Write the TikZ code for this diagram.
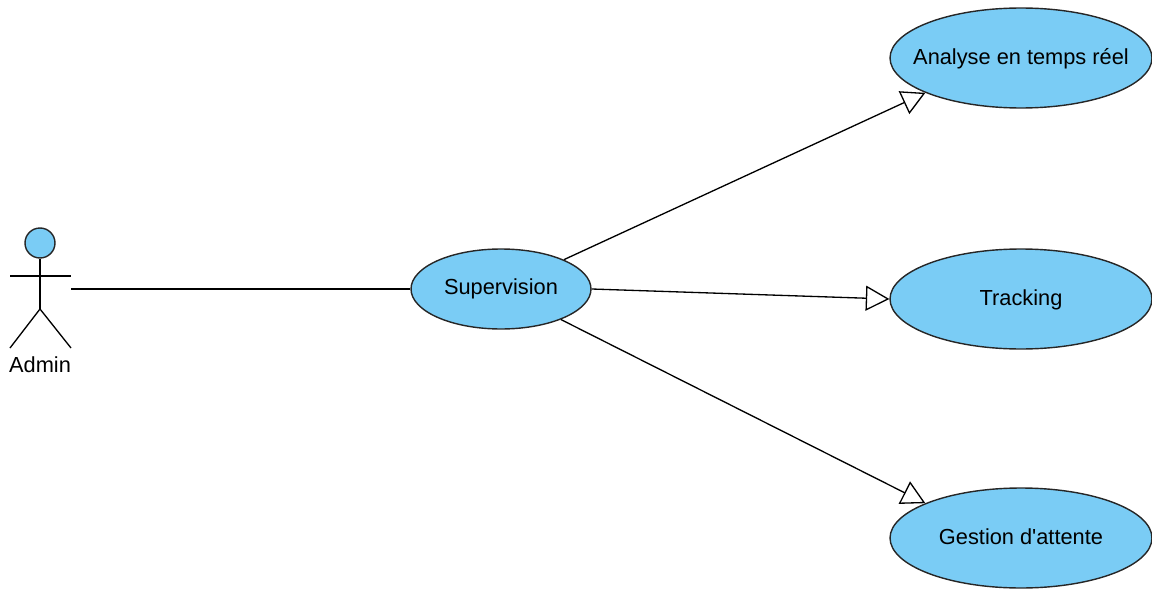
\documentclass[tikz,border=0pt]{standalone}
\usepackage{fontspec}
\setmainfont{Liberation Sans}
\usetikzlibrary{
  arrows.meta, % for the open triangles
  shapes.geometric, % for ellipse nodes
}
\definecolor{usecase-blue}{RGB}{122, 204, 245}
\tikzset{
  usecase/.style={ellipse, draw=black!85, fill=usecase-blue, line width=0.8pt, inner sep=0pt, font=\fontsize{12.4}{14}\selectfont},
  large-usecase/.style={usecase, inner xsep=-0.5cm, text height=10.5pt, text depth=2.6pt, minimum width=5.24cm, minimum height=2cm},
  actor-line/.style={draw=black, line width=0.75pt},
  generalization/.style={actor-line, -{Triangle[open, fill=white, length=0.47cm, width=0.5cm]}},
}

\begin{document}
\begin{tikzpicture}[x=0.02cm, y=-0.02cm]
    \useasboundingbox (0,0) rectangle (1152,588);

    \node[usecase, inner xsep=-0.2cm, minimum width=3.6cm, minimum height=1.6cm] (supervision) at (501,289) {Supervision};
    \node[large-usecase] (analyse) at (1021,58) {Analyse en temps réel};
    \node[large-usecase] (tracking) at (1021,299) {Tracking};
    \node[large-usecase] (gestion) at (1021,538) {Gestion d\textquotesingle attente};

    % stick figure
    \node[circle, draw=black!85, fill=usecase-blue, line width=0.8pt, minimum size=0.6cm, inner sep=0pt] (admin-head) at (40,243) {};
    \coordinate (admin-hip) at (40,309);
    \coordinate (admin-free) at (71,289);
    \draw[actor-line] (admin-head.south) -- (admin-hip);
    \draw[actor-line] (10,276) -- (71,276);
    \draw[actor-line] (10,348) -- (admin-hip) -- (71,348);
    \node[font=\fontsize{12.4}{14}\selectfont, inner sep=0pt] (admin-label) at (40,365) {Admin};

    \draw[actor-line] (admin-free) -- (supervision.west);
    \draw[generalization] (supervision.25) -- (analyse.200);
    \draw[generalization] (supervision.east) -- (tracking.west);
    \draw[generalization] (supervision.-27) -- (gestion.160);
\end{tikzpicture}
\end{document}
